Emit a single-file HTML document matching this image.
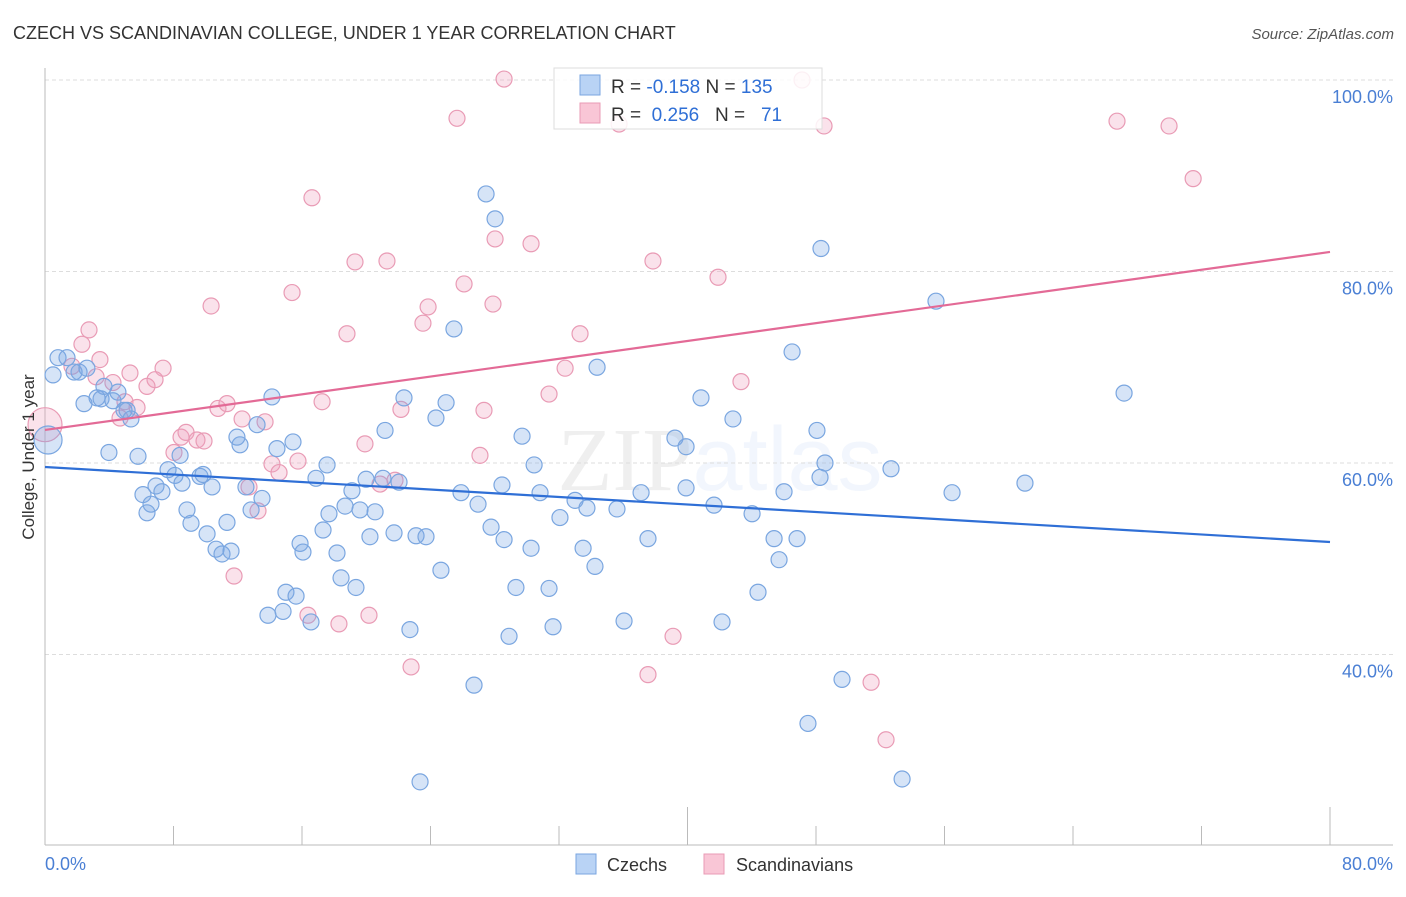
<!DOCTYPE html>
<html><head><meta charset="utf-8"><style>
body{margin:0;background:#fff;font-family:"Liberation Sans",sans-serif;}
</style></head><body>
<svg id="chart" width="1406" height="892" xmlns="http://www.w3.org/2000/svg" style="font-family:'Liberation Sans',sans-serif">
<text x="13" y="39" font-size="18" fill="#333">CZECH VS SCANDINAVIAN COLLEGE, UNDER 1 YEAR CORRELATION CHART</text>
<text x="1394" y="39" font-size="15" fill="#555" text-anchor="end" font-style="italic">Source: ZipAtlas.com</text>
<text x="720" y="490" font-size="90" fill="#000" opacity="0.06" text-anchor="middle" font-family="Liberation Serif">ZIP<tspan fill="#3b7de0" opacity="1.5" font-family="Liberation Sans">atlas</tspan></text>
<g id="grid"></g>
<g id="axes"></g>
<g id="pts"></g>
<g id="lines"></g>
<text transform="translate(34,457) rotate(-90)" font-size="17" fill="#333" text-anchor="middle">College, Under 1 year</text>
<g>
<rect x="554" y="68" width="268" height="61" fill="#fff" fill-opacity="0.85" stroke="#ddd"/>
<rect x="580" y="75" width="20" height="20" fill="#b9d3f5" stroke="#7aa6e0"/>
<rect x="580" y="103" width="20" height="20" fill="#f9c6d6" stroke="#e99bb5"/>
<text x="611" y="93" font-size="19" fill="#333">R = <tspan fill="#2f6fd6">-0.158</tspan>   N = <tspan fill="#2f6fd6">135</tspan></text>
<text x="611" y="121" font-size="19" fill="#333" xml:space="preserve">R =  <tspan fill="#2f6fd6">0.256</tspan>   N =   <tspan fill="#2f6fd6">71</tspan></text>
</g>
<g>
<rect x="576" y="854" width="20" height="20" fill="#b9d3f5" stroke="#7aa6e0"/>
<text x="607" y="871" font-size="18" fill="#333">Czechs</text>
<rect x="704" y="854" width="20" height="20" fill="#f9c6d6" stroke="#e99bb5"/>
<text x="736" y="871" font-size="18" fill="#333">Scandinavians</text>
</g>
</svg>
<script>
const blueX=[27.46,28.02,48.31,55.47,25.46,46.51,34.37,67.18,22.35,24.97,40.84,24.34,42.83,21.17,29.70,39.22,48.06,39.91,15.44,14.13,13.20,12.14,11.95,14.44,16.87,17.56,19.99,21.04,22.04,19.11,17.68,18.68,19.61,20.55,17.31,20.23,21.73,23.10,23.72,15.88,16.06,18.18,18.43,19.36,24.65,15.0,15.63,13.88,14.82,16.56,22.72,26.71,23.35,25.90,26.96,28.45,30.45,30.82,27.77,28.58,30.26,29.32,31.38,28.89,31.63,32.06,33.0,33.74,33.50,34.24,35.61,37.11,37.54,36.05,39.91,41.65,44.02,46.01,45.39,45.70,44.39,42.15,46.82,48.56,48.25,52.67,56.47,61.01,49.62,47.50,53.36,0.50,0.81,1.37,1.81,2.12,2.61,2.43,3.24,3.49,3.67,4.23,4.54,4.92,5.11,5.35,3.98,5.79,6.10,6.35,6.60,6.91,7.28,7.66,8.09,8.41,8.53,8.84,9.09,9.65,9.84,10.09,10.40,10.65,11.02,11.33,11.58,12.51,12.83,13.51];
const blueY=[88.1,85.5,82.4,76.9,74.0,71.6,70.0,67.3,66.8,66.3,66.8,64.7,64.6,63.4,62.8,62.6,63.4,61.7,62.2,66.9,64.0,61.9,62.7,61.5,58.4,59.8,58.3,58.4,58.0,57.1,54.7,55.5,55.1,54.9,53.0,52.3,52.7,52.4,52.3,51.6,50.7,50.6,48.0,47.0,48.8,46.5,46.1,44.1,44.5,43.4,42.6,36.8,26.7,56.9,55.7,57.7,59.8,56.9,53.3,52.0,51.1,47.0,46.9,41.9,42.9,54.3,56.1,55.3,51.1,49.2,55.2,56.9,52.1,43.5,57.4,55.6,54.7,57.0,52.1,49.9,46.5,43.4,52.1,60.0,58.5,59.4,56.9,57.9,37.4,32.8,27.0,69.2,71.0,71.0,69.5,69.5,69.9,66.2,66.8,66.7,68.0,66.5,67.4,65.5,65.5,64.6,61.1,60.7,56.7,54.8,55.7,57.6,57.0,59.3,58.7,60.8,57.9,55.1,53.7,58.6,58.8,52.6,57.5,51.0,50.5,53.8,50.8,57.5,55.1,56.3];
const pinkX=[28.58,47.13,25.65,35.74,48.50,66.74,69.98,71.48,16.62,28.02,30.26,19.30,21.29,37.85,41.90,26.09,15.38,27.89,10.34,23.85,23.53,18.80,33.31,2.74,2.30,1.68,3.42,3.18,7.35,5.29,6.85,6.35,4.23,4.98,4.67,5.73,10.77,11.33,12.27,13.70,17.25,22.16,27.33,32.38,31.38,43.33,19.92,27.08,8.47,8.78,9.46,9.90,8.03,14.13,15.75,14.57,12.70,13.26,20.86,21.79,11.77,16.37,18.30,20.17,22.79,37.54,39.10,51.43,52.36];
const pinkY=[100.1,100,96.0,95.4,95.2,95.7,95.2,89.7,87.7,83.4,82.9,81.0,81.1,81.1,79.4,78.7,77.8,76.6,76.4,76.3,74.6,73.5,73.5,73.9,72.4,70.1,70.8,69.0,69.9,69.4,68.7,68.0,68.4,66.4,64.7,65.8,65.7,66.2,64.6,64.3,66.4,65.6,65.5,69.9,67.2,68.5,62.0,60.8,62.7,63.2,62.4,62.3,61.1,59.9,60.2,59.0,57.5,55.0,57.8,58.2,48.2,44.1,43.2,44.1,38.7,37.9,41.9,37.1,31.1];
const bigBlue=[0.19,62.4], bigPink=[0.0,64.0];
const blueLine=[59.58,51.75], pinkLine=[63.45,82.04];
const yTicks=[100,80,60,40];
const yTickLabels=["100.0%","80.0%","60.0%","40.0%"];
const xTicks=[0,8,16,24,32,40,48,56,64,72,80];
const NS="http://www.w3.org/2000/svg";
const sx=v=>45+v/80*1285, sy=v=>80+(100-v)*9.575;
function mk(tag,attrs,parent){const e=document.createElementNS(NS,tag);for(const k in attrs)e.setAttribute(k,attrs[k]);document.getElementById(parent).appendChild(e);return e;}
yTicks.forEach((t,i)=>{
 const l=mk('line',{x1:45,x2:1393,y1:sy(t),y2:sy(t),stroke:'#ddd','stroke-dasharray':'4,3'},'grid');
 
 
 const tx=mk('text',{x:1393,y:sy(t)+23,'font-size':18,fill:'#4a7fd4','text-anchor':'end'},'grid');
 tx.textContent=yTickLabels[i];
 
 
});
let a=mk('line',{x1:45,x2:45,y1:68,y2:845,stroke:'#bbb'},'axes');


a=mk('line',{x1:45,x2:1393,y1:845,y2:845,stroke:'#bbb'},'axes');


xTicks.forEach(t=>{
 const tk=mk('line',{x1:sx(t),x2:sx(t),y1:(t%40===0)?807:826,y2:845,stroke:'#bbb'},'axes');
 
 
});
let xl=mk('text',{x:45,y:870,'font-size':18,fill:'#4a7fd4'},'axes');xl.textContent='0.0%';


xl=mk('text',{x:1393,y:870,'font-size':18,fill:'#4a7fd4','text-anchor':'end'},'axes');xl.textContent='80.0%';


function dot(x,y,r,c){
 const fill=c==='b'?'rgba(120,165,230,0.3)':'rgba(240,160,190,0.3)';
 const st=c==='b'?'#7aa6e0':'#e99bb5';
 const d=mk('circle',{cx:sx(x),cy:sy(y),r:r,fill:fill,stroke:st,'stroke-width':1.2},'pts');
 
 
}
pinkX.forEach((x,i)=>dot(x,pinkY[i],8,'p'));
blueX.forEach((x,i)=>dot(x,blueY[i],8,'b'));
dot(bigPink[0],bigPink[1],17,'p');
dot(bigBlue[0],bigBlue[1],14,'b');
let ln=mk('line',{x1:sx(0),y1:sy(blueLine[0]),x2:sx(80),y2:sy(blueLine[1]),stroke:'#2f6fd6','stroke-width':2.2},'lines');


ln=mk('line',{x1:sx(0),y1:sy(pinkLine[0]),x2:sx(80),y2:sy(pinkLine[1]),stroke:'#e36a96','stroke-width':2.2},'lines');


</script>
</body></html>
